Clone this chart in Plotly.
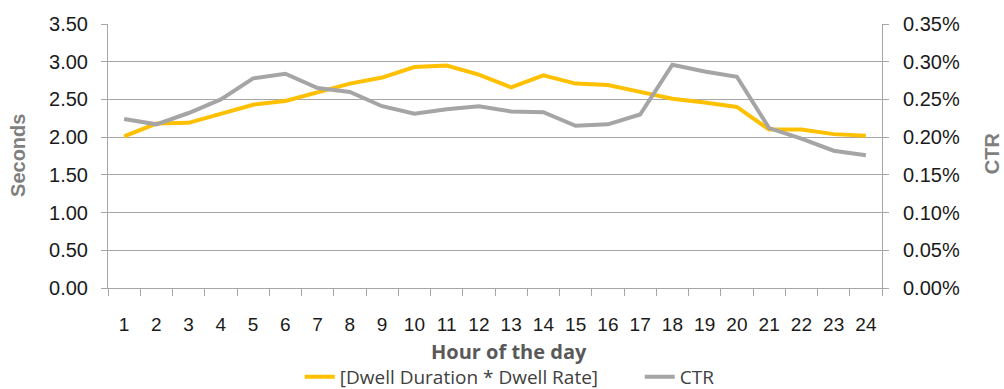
import plotly.graph_objects as go

# Hourly engagement data
hours = [str(h) for h in range(1, 25)]
dwell_score = [2.01, 2.18, 2.19, 2.31, 2.43, 2.48, 2.60, 2.71, 2.79, 2.93, 2.95, 2.83,
               2.66, 2.82, 2.71, 2.69, 2.60, 2.51, 2.46, 2.40, 2.10, 2.10, 2.04, 2.02]
ctr = [0.00224, 0.00217, 0.00232, 0.00250, 0.00278, 0.00284, 0.00265, 0.00260,
       0.00241, 0.00231, 0.00237, 0.00241, 0.00234, 0.00233, 0.00215, 0.00217,
       0.00230, 0.00296, 0.00287, 0.00280, 0.00212, 0.00198, 0.00182, 0.00176]

GOLD = "#FFC000"
GREY_LINE = "#A5A5A5"
AXIS_GREY = "#A6A6A6"
TITLE_GREY = "#7F7F7F"
ARIAL = "Liberation Sans, Arial, sans-serif"

fig = go.Figure()
fig.add_trace(go.Scatter(
    x=hours, y=dwell_score, mode="lines", name="[Dwell Duration * Dwell Rate]",
    line=dict(color=GOLD, width=4), yaxis="y",
))
fig.add_trace(go.Scatter(
    x=hours, y=ctr, mode="lines", name="CTR",
    line=dict(color=GREY_LINE, width=4), yaxis="y2",
))

tick_font = dict(family=ARIAL, size=20, color="#1a1a1a")

fig.update_layout(
    width=1004, height=389,
    margin=dict(l=108, r=122, t=24, b=101, autoexpand=False),
    paper_bgcolor="white", plot_bgcolor="white",
    showlegend=True,
    legend=dict(
        orientation="h", x=0.687, xanchor="center", y=-0.337, yanchor="middle",
        font=dict(family="Open Sans, sans-serif", size=19, color="#404040"),
        itemwidth=30, entrywidth=295,
    ),
    xaxis=dict(
        type="category", tickson="boundaries", ticks="outside", ticklen=7,
        tickcolor=AXIS_GREY, showgrid=False, showline=True, linecolor=AXIS_GREY,
        linewidth=1, range=[-0.5, 23.5], ticklabelstandoff=19,
        tickfont=dict(family=ARIAL, size=19, color="#1a1a1a"),
        zeroline=False,
    ),
    yaxis=dict(
        range=[0, 3.5], dtick=0.5, tickformat=".2f", ticks="outside", ticklen=6,
        tickcolor=AXIS_GREY, showgrid=True, gridcolor=AXIS_GREY, gridwidth=1,
        showline=True, linecolor=AXIS_GREY, zeroline=False, tickfont=tick_font,
        ticklabelstandoff=9,
    ),
    yaxis2=dict(
        range=[0, 0.0035], dtick=0.0005, tickformat=".2%", overlaying="y", side="right",
        ticks="outside", ticklen=6, tickcolor=AXIS_GREY, showgrid=False,
        showline=True, linecolor=AXIS_GREY, zeroline=False, tickfont=tick_font,
        ticklabelstandoff=10,
    ),
    annotations=[
        dict(text="<b>Seconds</b>", xref="paper", yref="paper", x=-0.1163, y=0.504,
             textangle=-90, showarrow=False, xanchor="center", yanchor="middle",
             font=dict(family=ARIAL, size=20, color=TITLE_GREY)),
        dict(text="<b>CTR</b>", xref="paper", yref="paper", x=1.142, y=0.51,
             textangle=-90, showarrow=False, xanchor="center", yanchor="middle",
             font=dict(family=ARIAL, size=20, color=TITLE_GREY)),
        dict(text="<b>Hour of the day</b>", xref="paper", yref="paper", x=0.518, y=-0.2424,
             showarrow=False, xanchor="center", yanchor="middle",
             font=dict(family="Open Sans, sans-serif", size=20, color="#595959")),
    ],
)

fig.write_html("out.html")
